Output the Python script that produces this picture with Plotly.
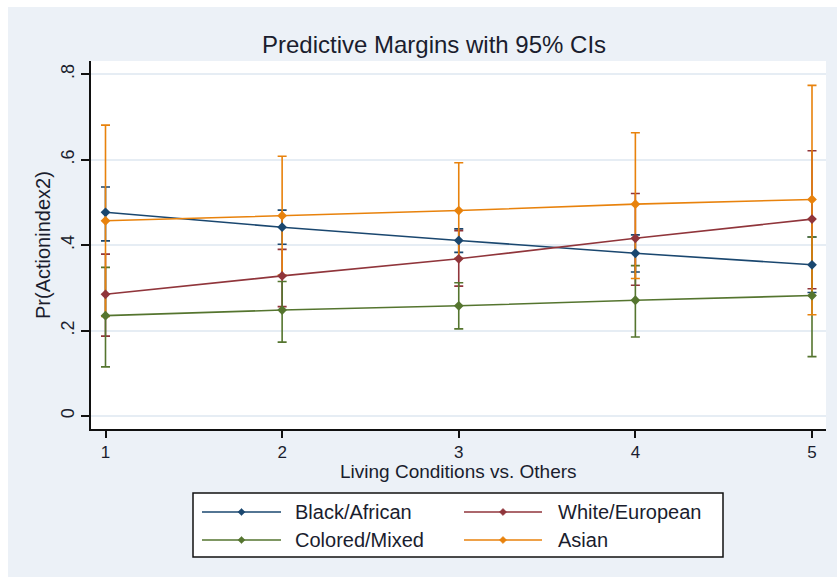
import plotly.graph_objects as go

# Predictive margins by living-conditions category, one series per group
living_conditions = [1, 2, 3, 4, 5]
groups = ["Black/African", "White/European", "Colored/Mixed", "Asian"]

black_margin = [0.477, 0.442, 0.411, 0.381, 0.354]
black_lo = [0.410, 0.402, 0.383, 0.337, 0.289]
black_hi = [0.536, 0.482, 0.438, 0.424, 0.419]

white_margin = [0.285, 0.328, 0.368, 0.416, 0.461]
white_lo = [0.187, 0.256, 0.304, 0.306, 0.298]
white_hi = [0.379, 0.390, 0.434, 0.521, 0.621]

colored_margin = [0.235, 0.248, 0.258, 0.271, 0.282]
colored_lo = [0.115, 0.173, 0.204, 0.185, 0.139]
colored_hi = [0.348, 0.315, 0.312, 0.352, 0.419]

asian_margin = [0.457, 0.469, 0.481, 0.496, 0.507]
asian_lo = [0.233, 0.330, 0.369, 0.322, 0.237]
asian_hi = [0.681, 0.608, 0.593, 0.663, 0.774]

y_tick_vals = [0, 0.2, 0.4, 0.6, 0.8]
y_tick_text = ["0", ".2", ".4", ".6", ".8"]

colors = ["#1a476f", "#90353b", "#55752f", "#e8820c"]
series = [
    (black_margin, black_lo, black_hi),
    (white_margin, white_lo, white_hi),
    (colored_margin, colored_lo, colored_hi),
    (asian_margin, asian_lo, asian_hi),
]

BG = "#ecf1f7"
TXT = "#1a1d2e"
FONT = "Liberation Sans, Arial, sans-serif"

# plot-area geometry in pixels (used for the hand-drawn legend and frame)
W_FIG, H_FIG = 837, 579
L, R, T, B = 91, 826, 61, 429
PW, PH = R - L, B - T


def px(x):
    return (x - L) / PW


def py(y):
    return (B - y) / PH


fig = go.Figure()

# confidence-interval caps first, so the connected lines sit on top
for (m, lo, hi), c in zip(series, colors):
    fig.add_trace(go.Scatter(
        x=living_conditions, y=m, mode="markers",
        marker=dict(size=1, opacity=0, color=c),
        error_y=dict(type="data", symmetric=False,
                     array=[h - v for h, v in zip(hi, m)],
                     arrayminus=[v - l for v, l in zip(m, lo)],
                     color=c, thickness=1.6, width=4.5),
        showlegend=False, hoverinfo="skip", cliponaxis=False,
    ))

for (m, lo, hi), c, name in zip(series, colors, groups):
    fig.add_trace(go.Scatter(
        x=living_conditions, y=m, mode="lines+markers", name=name,
        line=dict(color=c, width=1.6),
        marker=dict(symbol="diamond", size=7.5, color=c),
        showlegend=False, cliponaxis=False,
    ))

shapes = []
# white margin around the light outer region
shapes.append(dict(type="rect", xref="paper", yref="paper",
                   x0=px(0), x1=px(8), y0=py(W_FIG * 2), y1=py(-5),
                   fillcolor="white", line=dict(width=0), layer="below"))
shapes.append(dict(type="rect", xref="paper", yref="paper",
                   x0=px(0), x1=px(W_FIG), y0=py(7), y1=py(-5),
                   fillcolor="white", line=dict(width=0), layer="below"))
shapes.append(dict(type="rect", xref="paper", yref="paper",
                   x0=px(0), x1=px(W_FIG), y0=py(H_FIG + 5), y1=py(577),
                   fillcolor="white", line=dict(width=0), layer="below"))

# legend box
box_l, box_r, box_t, box_b = 193, 723, 493, 557
shapes.append(dict(type="rect", xref="paper", yref="paper",
                   x0=px(box_l), x1=px(box_r), y0=py(box_b), y1=py(box_t),
                   fillcolor="white", line=dict(color="#111111", width=1.5)))

legend_rows = [512, 540]
legend_cols = [(202, 281, 293), (464, 542, 556)]
annotations = []
for i, (name, c) in enumerate(zip(groups, colors)):
    row, col = divmod(i, 2)
    yy = legend_rows[row]
    x0, x1, xt = legend_cols[col]
    xm = (x0 + x1) / 2
    shapes.append(dict(type="line", xref="paper", yref="paper",
                       x0=px(x0), x1=px(x1), y0=py(yy), y1=py(yy),
                       line=dict(color=c, width=1.6)))
    d = 3.6
    path = (f"M {px(xm - d)} {py(yy)} L {px(xm)} {py(yy - d)} "
            f"L {px(xm + d)} {py(yy)} L {px(xm)} {py(yy + d)} Z")
    shapes.append(dict(type="path", xref="paper", yref="paper", path=path,
                       fillcolor=c, line=dict(color=c, width=0.5)))
    annotations.append(dict(text=name, xref="paper", yref="paper",
                            x=px(xt), y=py(yy), xanchor="left", yanchor="middle",
                            showarrow=False, font=dict(size=20, color=TXT, family=FONT)))

# axis titles
annotations.append(dict(text="Living Conditions vs. Others", xref="paper", yref="paper",
                        x=px((L + R) / 2), y=py(471.5), xanchor="center", yanchor="middle",
                        showarrow=False, font=dict(size=19, color=TXT, family=FONT)))
annotations.append(dict(text="Pr(Actionindex2)", xref="paper", yref="paper",
                        x=px(43), y=py(245), xanchor="center", yanchor="middle",
                        textangle=-90, showarrow=False,
                        font=dict(size=20, color=TXT, family=FONT)))

fig.update_layout(
    width=W_FIG, height=H_FIG,
    margin=dict(l=L, r=W_FIG - R, t=T, b=H_FIG - B),
    paper_bgcolor=BG, plot_bgcolor="white",
    title=dict(text="Predictive Margins with 95% CIs", x=434 / W_FIG, xanchor="center",
               y=1 - 45 / H_FIG, yanchor="middle",
               font=dict(size=24, color=TXT, family=FONT)),
    shapes=shapes, annotations=annotations,
    font=dict(family=FONT, color=TXT),
)

fig.update_xaxes(
    range=[1 - 14.5 / 176.6, 5 + 14 / 176.6],
    tickvals=living_conditions, ticktext=[str(v) for v in living_conditions],
    ticks="outside", ticklen=7, tickwidth=1.5, tickcolor="#111111",
    ticklabelstandoff=0,
    showline=True, linecolor="#111111", linewidth=1.5,
    showgrid=False, zeroline=False,
    tickfont=dict(size=17, color=TXT, family=FONT),
)
fig.update_yaxes(
    range=[-13 / 427.1, 0.8 + 13.3 / 427.1],
    tickvals=y_tick_vals, ticktext=y_tick_text, tickangle=-90,
    ticks="outside", ticklen=8, tickwidth=1.5, tickcolor="#111111",
    showline=True, linecolor="#111111", linewidth=1.5,
    showgrid=True, gridcolor="#e6edf4", gridwidth=1.5, zeroline=False,
    tickfont=dict(size=18, color=TXT, family=FONT),
)

fig.write_html("out.html")
